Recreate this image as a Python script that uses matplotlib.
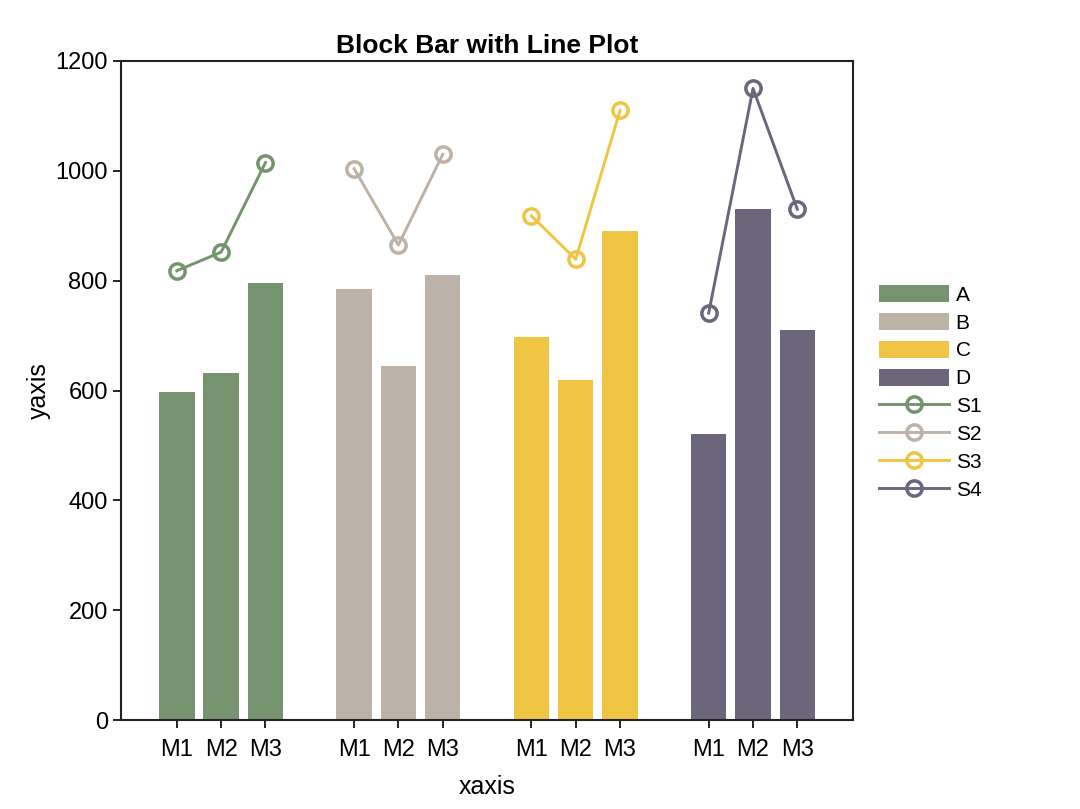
import matplotlib
matplotlib.use("Agg")
import matplotlib.pyplot as plt
import numpy as np

plt.rcParams["font.family"] = ["Liberation Sans", "DejaVu Sans"]

groups = ["A", "B", "C", "D"]
series = ["S1", "S2", "S3", "S4"]
tick_labels = ["M1", "M2", "M3"]
colors = ["#769370", "#BDB2A7", "#F0C543", "#6C667D"]

bar_values = [
    [598, 632, 795],
    [784, 645, 810],
    [698, 620, 890],
    [521, 930, 710],
]
line_values = [
    [818, 852, 1015],
    [1004, 865, 1030],
    [918, 839, 1110],
    [741, 1150, 930],
]

fig = plt.figure(figsize=(10.8, 8.09), dpi=100)
ax = fig.add_axes([0.112, 0.110, 0.678, 0.8146])

bar_handles = []
line_handles = []
xticks = []
for i, name in enumerate(groups):
    xs = np.arange(3) + 1 + 4 * i
    xticks.extend(xs)
    b = ax.bar(xs, bar_values[i], width=0.8, color=colors[i], label=name)
    bar_handles.append(b)
for i, name in enumerate(series):
    xs = np.arange(3) + 1 + 4 * i
    (l,) = ax.plot(xs, line_values[i], color=colors[i], lw=2.1, marker="o",
                   ms=11, mfc="none", mew=2.5, label=name)
    line_handles.append(l)

ax.set_xticks(xticks)
ax.set_xticklabels(tick_labels * 4, fontsize=17)
ax.set_xlim(-0.26, 16.26)
ax.set_ylim(0, 1200)
ax.set_yticks(range(0, 1201, 200))
ax.tick_params(axis="y", labelsize=17, length=6, width=1.2, direction="out")
ax.tick_params(axis="x", length=6, width=1.2, direction="out", pad=8)
for sp in ax.spines.values():
    sp.set_linewidth(1.5)
    sp.set_color("#222222")

ax.set_xlabel("xaxis", fontsize=18, labelpad=10)
ax.set_ylabel("yaxis", fontsize=18, labelpad=3)
ax.set_title("Block Bar with Line Plot", fontsize=19, fontweight="bold", pad=6)

ax.legend(handles=bar_handles + line_handles, labels=groups + series,
          loc="center left", bbox_to_anchor=(1.009, 0.497), frameon=False,
          fontsize=15, handlelength=3.4, handleheight=0.9, labelspacing=0.39,
          handletextpad=0.3)

fig.savefig("out.png", dpi=100)
